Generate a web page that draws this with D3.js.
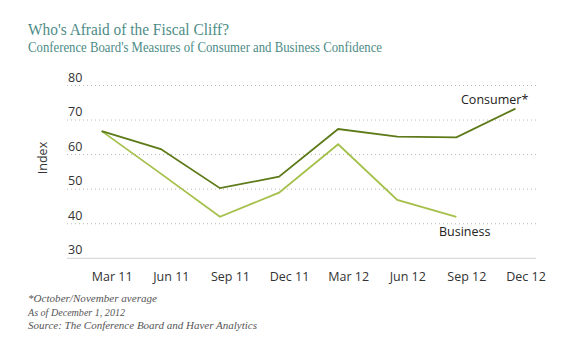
<!DOCTYPE html>
<html><head><meta charset="utf-8">
<script src="https://cdn.jsdelivr.net/npm/d3@7"></script>
<style>
body{margin:0;background:#fff;}
svg text{font-family:"Open Sans",sans-serif;}
</style></head>
<body><svg id="c" width="580" height="353"></svg>
<script>
const categories = ["Mar 11","Jun 11","Sep 11","Dec 11","Mar 12","Jun 12","Sep 12","Dec 12"];
const consumer = [66.8, 61.6, 50.3, 53.6, 67.4, 65.2, 65.0, 73.3];
const business = [66.8, 54.5, 42.0, 49.0, 63.0, 46.9, 42.0, null];
const yTicks = [30, 40, 50, 60, 70, 80];
const footnotes = ["*October/November average","As of December 1, 2012","Source: The Conference Board and Haver Analytics"];

const svg = d3.select("#c");
const x = d3.scalePoint().domain(categories).range([101.7, 515.5]);
const y = d3.scaleLinear().domain([30, 80]).range([258.3, 85.5]);
const gx0 = 67, gx1 = 536;
const serif = "'Liberation Serif','Times New Roman',serif";

function fit(sel, target){
  sel.attr("textLength", target).attr("lengthAdjust", "spacingAndGlyphs");
}

fit(svg.append("text").attr("x",28).attr("y",35).text("Who's Afraid of the Fiscal Cliff?")
  .style("font-family",serif).style("font-size","17.5px").attr("fill","#4d8c86"), 201);
fit(svg.append("text").attr("x",28).attr("y",52).text("Conference Board's Measures of Consumer and Business Confidence")
  .style("font-family",serif).style("font-size","13.8px").attr("fill","#4d8c86"), 354);

// grid
const grid = svg.append("g");
yTicks.forEach(t => {
  grid.append("line").attr("x1",gx0).attr("x2",gx1).attr("y1",y(t)).attr("y2",y(t))
    .attr("stroke", t===30 ? "#d0d0d0" : "#b8b8b8")
    .attr("stroke-width", 1)
    .attr("stroke-dasharray", t===30 ? null : "1,3");
  grid.append("text").attr("x",68).attr("y",y(t)-4).text(t)
    .style("font-size","12.5px").attr("fill","#333");
});

// x axis
const xa = svg.append("g").attr("transform",`translate(0,${y(30)})`)
  .call(d3.axisBottom(x).tickSize(0).tickPadding(14));
xa.select(".domain").remove();
xa.selectAll("text").attr("dx",10).style("font-size","12.5px").style("font-family","'Open Sans',sans-serif").attr("fill","#333");

svg.append("text").attr("transform","translate(47,158) rotate(-90)").attr("text-anchor","middle")
  .text("Index").style("font-size","12.5px").attr("fill","#333");

const line = d3.line().defined(d => d != null).x((d,i) => x(categories[i])).y(d => y(d));
svg.append("path").attr("d", line(business)).attr("fill","none").attr("stroke","#a4c04a").attr("stroke-width",1.8);
svg.append("path").attr("d", line(consumer)).attr("fill","none").attr("stroke","#5d7a18").attr("stroke-width",1.8);

svg.append("text").attr("x",461).attr("y",104).text("Consumer*").style("font-size","12.5px").attr("fill","#222");
svg.append("text").attr("x",439).attr("y",236).text("Business").style("font-size","12.5px").attr("fill","#222");

const targets = [129, 97, 229];
footnotes.forEach((f,i) => {
  fit(svg.append("text").attr("x",28).attr("y",302 + i*13.5).text(f)
    .style("font-family",serif).style("font-style","italic").style("font-size","11px")
    .attr("fill","#555"), targets[i]);
});
</script></body></html>
